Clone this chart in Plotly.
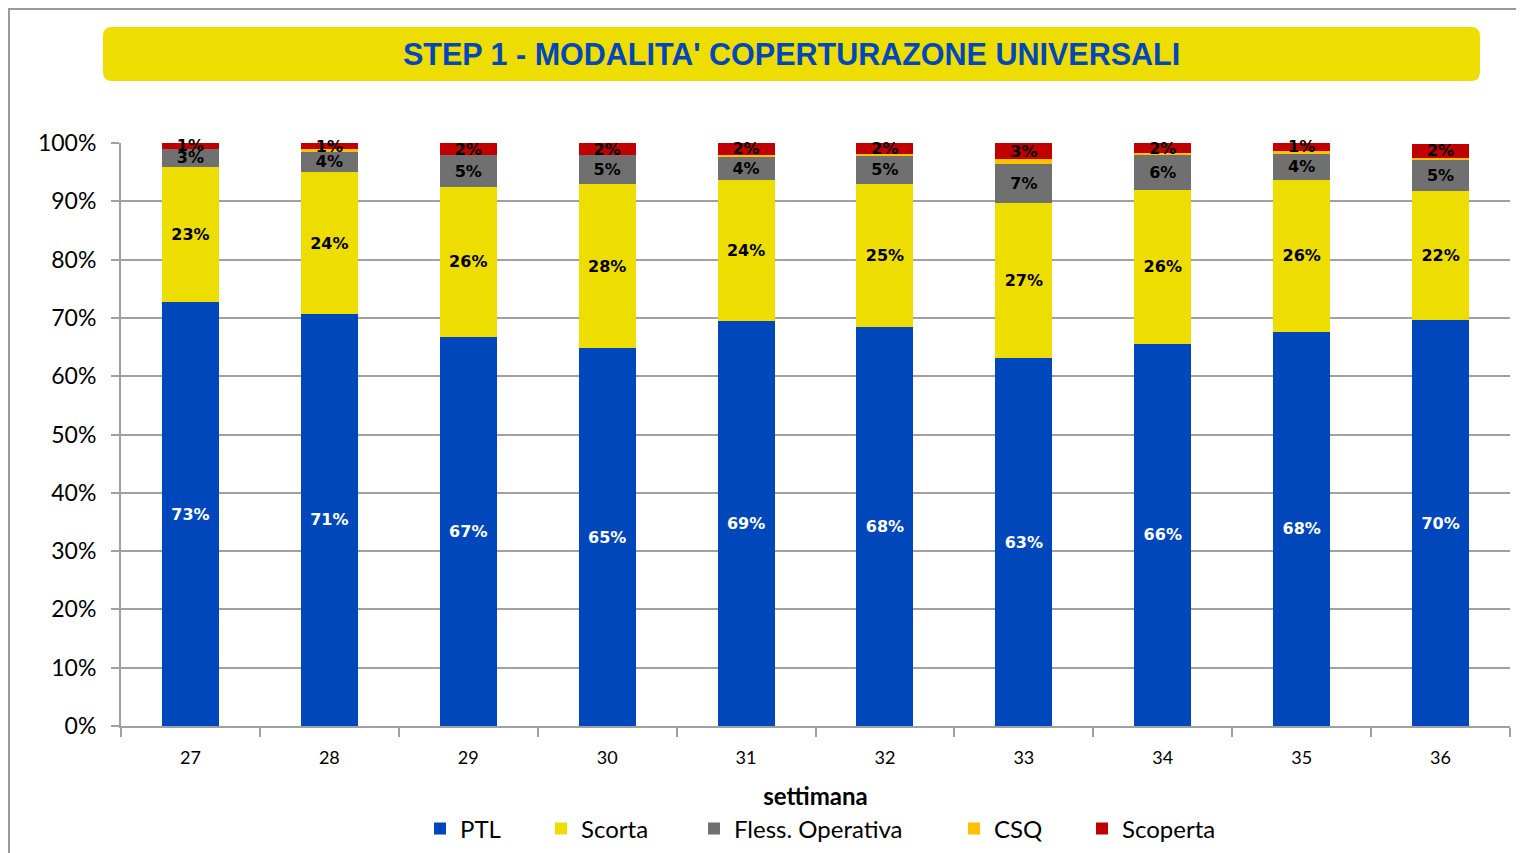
import plotly.graph_objects as go

weeks = ["27", "28", "29", "30", "31", "32", "33", "34", "35", "36"]
ptl = [72.7, 70.7, 66.7, 64.8, 69.4, 68.4, 63.1, 65.6, 67.6, 69.6]
scorta = [23.2, 24.3, 25.8, 28.2, 24.2, 24.6, 26.7, 26.3, 26.1, 22.1]
fless = [3.1, 3.6, 5.4, 4.9, 4.1, 4.8, 6.6, 6.0, 4.4, 5.4]
csq = [0.0, 0.3, 0.0, 0.0, 0.3, 0.3, 0.8, 0.4, 0.6, 0.4]
scoperta = [1.0, 1.1, 2.1, 2.1, 2.0, 1.9, 2.8, 1.7, 1.3, 2.4]

series = [
    ("PTL", ptl, "#0047BB", "white", True),
    ("Scorta", scorta, "#EEDD00", "black", True),
    ("Fless. Operativa", fless, "#707070", "black", True),
    ("CSQ", csq, "#FFC000", "black", False),
    ("Scoperta", scoperta, "#C00000", "black", True),
]

OFF = 8  # page body margin
W, H = 1524 - OFF, 853 - OFF
ML, MT = 121 - OFF, 143 - OFF
MR = W - (1510 - OFF)
MB = H - (726 - OFF)
PW, PH = W - ML - MR, H - MT - MB

def px(x):
    return (x - OFF - ML) / PW

def py(y):
    return (H - MB - (y - OFF)) / PH

legend_left = [432, 553, 706, 966, 1094]

fig = go.Figure()
for i, (name, vals, color, tcolor, show) in enumerate(series):
    fig.add_trace(go.Bar(
        x=weeks, y=vals, name=name,
        marker=dict(color=color, line=dict(width=0)),
        texttemplate="<b>%{y:.0f}%</b>" if show else None,
        textposition="inside" if show else "none",
        insidetextanchor="middle",
        textfont=dict(family="DejaVu Sans", size=16, color=tcolor),
        cliponaxis=False,
        hoverinfo="skip",
        showlegend=True,
        legend="legend" if i == 0 else f"legend{i+1}",
    ))

# rounded title box
x0, x1, y0, y1, r = 103, 1480, 27, 81, 9
path = (f"M {px(x0+r)},{py(y0)} L {px(x1-r)},{py(y0)} "
        f"Q {px(x1)},{py(y0)} {px(x1)},{py(y0+r)} L {px(x1)},{py(y1-r)} "
        f"Q {px(x1)},{py(y1)} {px(x1-r)},{py(y1)} L {px(x0+r)},{py(y1)} "
        f"Q {px(x0)},{py(y1)} {px(x0)},{py(y1-r)} L {px(x0)},{py(y0+r)} "
        f"Q {px(x0)},{py(y0)} {px(x0+r)},{py(y0)} Z")

shapes = [
    dict(type="rect", xref="paper", yref="paper",
         x0=px(9), x1=px(1524 + 20), y0=py(853 + 20), y1=py(9),
         line=dict(color="#9A9A9A", width=2), fillcolor="rgba(0,0,0,0)", layer="below"),
    dict(type="path", xref="paper", yref="paper", path=path,
         fillcolor="#EEDD00", line=dict(width=0), layer="below"),
]

legends = {}
for i, lx in enumerate(legend_left):
    key = "legend" if i == 0 else f"legend{i+1}"
    legends[key] = dict(
        orientation="h", x=px(lx - 12), xanchor="left", y=py(829), yanchor="middle",
        font=dict(family="Lato", size=24), bgcolor="rgba(0,0,0,0)",
    )

fig.update_layout(
    width=W, height=H,
    margin=dict(l=ML, r=MR, t=MT, b=MB, autoexpand=False),
    paper_bgcolor="white", plot_bgcolor="white",
    barmode="stack", bargap=0.59,
    showlegend=True,
    uniformtext=dict(minsize=16, mode="show"),
    font=dict(family="Lato", color="black"),
    shapes=shapes,
    annotations=[dict(
        text="<b>STEP 1 - MODALITA' COPERTURAZONE UNIVERSALI</b>",
        xref="paper", yref="paper", x=px((x0 + x1) / 2), y=py(54),
        xanchor="center", yanchor="middle", showarrow=False,
        font=dict(family="Liberation Sans Narrow, Arial Narrow, Liberation Sans", size=30.5, color="#0047BB"),
    )],
    xaxis=dict(
        type="category", tickson="boundaries", ticks="outside", ticklen=9,
        tickcolor="#A0A0A0", tickwidth=2,
        showline=True, linecolor="#A0A0A0", linewidth=2,
        showgrid=False, tickfont=dict(size=18), ticklabelstandoff=14,
        title=dict(text="<b>settimana</b>", font=dict(size=24), standoff=22),
    ),
    yaxis=dict(
        range=[0, 100.01], tickvals=list(range(0, 101, 10)),
        ticktext=[f"{v}%" for v in range(0, 101, 10)],
        ticks="outside", ticklen=8, tickcolor="#A0A0A0", tickwidth=2,
        showline=True, linecolor="#A0A0A0", linewidth=2,
        showgrid=True, gridcolor="#A0A0A0", gridwidth=2,
        tickfont=dict(size=23), ticklabelstandoff=10, zeroline=False,
    ),
    **legends,
)

fig.write_html("out.html")
